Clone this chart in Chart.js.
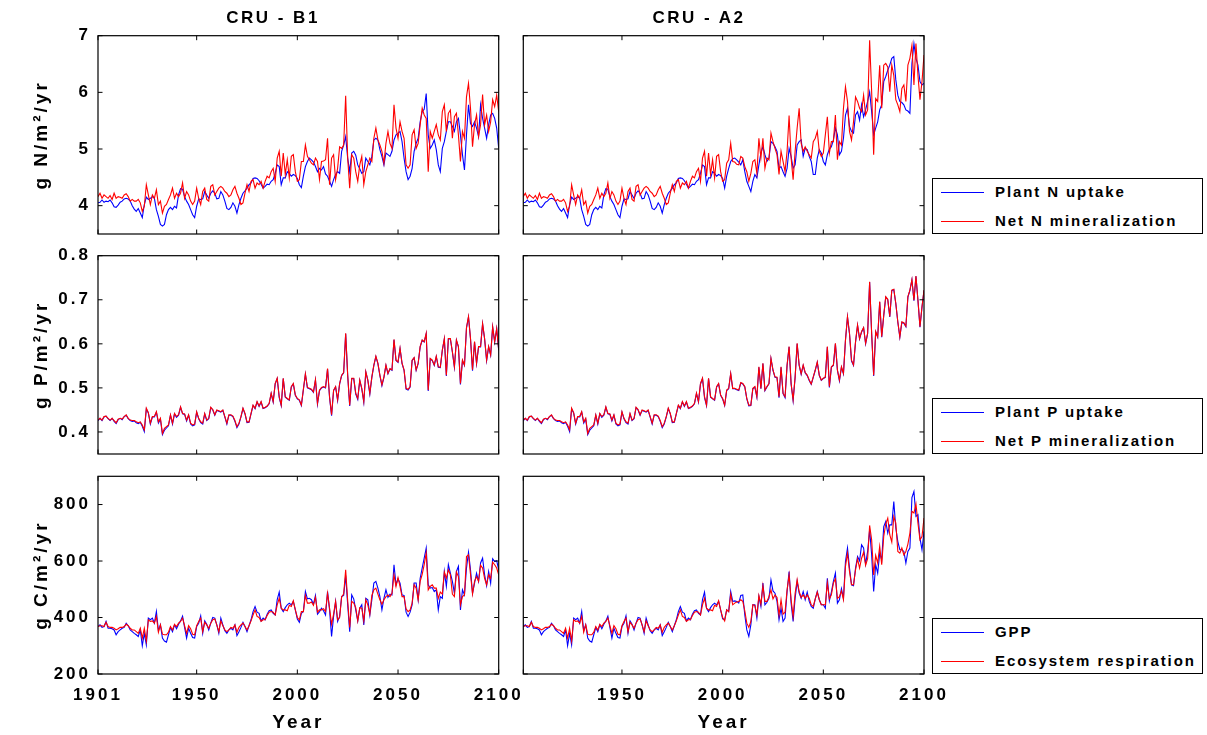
<!DOCTYPE html>
<html>
<head>
<meta charset="utf-8">
<script src="https://cdn.jsdelivr.net/npm/chart.js@4.4.1/dist/chart.umd.min.js"></script>
<style>
  html, body { margin: 0; padding: 0; background: #fff; }
  #wrap { position: relative; width: 1207px; height: 735px; overflow: hidden; font-family: "Liberation Sans", Arial, sans-serif; }
  canvas { position: absolute; left: 0; top: 0; }
  .ptitle { position: absolute; top: 8px; font-weight: bold; font-size: 17px; letter-spacing: 2.5px; transform: translateX(-50%); white-space: nowrap; }
  .legend { position: absolute; left: 932px; width: 271px; height: 56px; border: 1px solid #000; background: #fff; box-sizing: border-box; }
  .lrow { position: absolute; left: 0; height: 20px; width: 100%; }
  .lline { position: absolute; left: 8px; width: 43px; height: 1px; top: 10px; }
  .ltext { position: absolute; left: 62px; top: 0; line-height: 20px; font-weight: bold; font-size: 15px; letter-spacing: 1.9px; white-space: nowrap; }
</style>
</head>
<body>
<div id="wrap">
  <canvas id="c1" width="1207" height="735"></canvas>
  <canvas id="c2" width="1207" height="735"></canvas>
  <canvas id="c3" width="1207" height="735"></canvas>
  <canvas id="c4" width="1207" height="735"></canvas>
  <canvas id="c5" width="1207" height="735"></canvas>
  <canvas id="c6" width="1207" height="735"></canvas>
  <div class="ptitle" style="left:273px">CRU - B1</div>
  <div class="ptitle" style="left:699px">CRU - A2</div>
  <div class="legend" style="top:178px">
    <div class="lrow" style="top:3px"><div class="lline" style="background:#0000ff"></div><div class="ltext">Plant N uptake</div></div>
    <div class="lrow" style="top:32px"><div class="lline" style="background:#ff0000"></div><div class="ltext">Net N mineralization</div></div>
  </div>
  <div class="legend" style="top:398px">
    <div class="lrow" style="top:3px"><div class="lline" style="background:#0000ff"></div><div class="ltext">Plant P uptake</div></div>
    <div class="lrow" style="top:32px"><div class="lline" style="background:#ff0000"></div><div class="ltext">Net P mineralization</div></div>
  </div>
  <div class="legend" style="top:618px">
    <div class="lrow" style="top:3px"><div class="lline" style="background:#0000ff"></div><div class="ltext">GPP</div></div>
    <div class="lrow" style="top:32px"><div class="lline" style="background:#ff0000"></div><div class="ltext">Ecosystem respiration</div></div>
  </div>
</div>
<script>
// ---------- categories / ticks ----------
const firstYear = 1901, lastYear = 2100;
const yearTicks = [1901, 1950, 2000, 2050, 2100];
const nTicks = [4, 5, 6, 7];
const pTicks = [0.4, 0.5, 0.6, 0.7, 0.8];
const cTicks = [200, 400, 600, 800];

// ---------- N (g N/m2/yr) ----------
const nHistBlue = [4.05,4.06,4.10,4.06,4.08,4.07,4.10,4.05,3.98,3.97,
4.01,4.06,4.08,4.12,4.13,4.12,4.08,4.00,3.94,3.90,
3.95,3.87,3.79,4.02,4.15,4.11,4.13,4.16,4.13,3.93,
3.81,3.67,3.64,3.67,3.84,3.93,3.97,3.93,3.99,3.96,
4.19,4.30,4.29,4.16,4.08,4.02,3.93,3.84,3.79,3.99,
4.12,4.11,4.12,4.25,4.19,4.13,4.22,4.26,4.22,4.12,
4.13,4.25,4.19,4.08,3.95,3.93,3.97,4.05,3.99,3.87,
4.02,4.13,4.22,4.26,4.31,4.37,4.40,4.48,4.49,4.48,
4.44,4.38,4.31,4.34,4.38,4.37,4.43,4.46,4.57,4.72,
4.69,4.37,4.49,4.49,4.60,4.57,4.52,4.55,4.53,4.48];
const nHistRed = [4.16,4.22,4.13,4.19,4.16,4.13,4.18,4.11,4.22,4.13,
4.16,4.15,4.13,4.19,4.21,4.16,4.08,4.11,4.08,4.08,
4.11,4.05,3.90,3.99,4.37,4.19,4.02,4.19,4.13,4.28,
4.02,4.08,3.87,3.99,4.02,4.11,4.19,4.31,4.13,4.22,
4.16,4.22,4.40,4.13,4.25,4.19,4.08,4.02,4.08,4.31,
4.13,4.02,4.25,4.31,4.11,4.08,4.34,4.37,4.19,4.25,
4.31,4.34,4.31,4.25,4.22,4.16,4.19,4.28,4.34,4.22,
4.13,4.02,4.05,4.22,4.37,4.25,4.43,4.46,4.31,4.40,
4.37,4.43,4.31,4.43,4.52,4.49,4.60,4.66,4.43,4.84,
4.96,4.52,4.93,4.55,4.81,4.49,4.87,4.90,4.60,4.43];
const nB1Blue = [4.37,4.32,4.52,4.69,4.78,4.84,4.81,4.77,4.69,4.60,
4.66,4.63,4.69,4.56,4.52,4.43,4.34,4.46,4.55,4.60,
4.57,4.96,5.07,5.22,4.84,4.60,4.93,4.96,4.89,4.72,
4.65,4.57,4.60,4.84,4.78,4.72,4.87,5.16,5.19,5.16,
4.99,4.87,4.72,4.93,4.90,4.87,4.96,5.16,5.25,5.28,
5.31,5.13,4.84,4.60,4.46,4.52,4.66,4.96,5.10,5.19,
5.48,5.66,5.70,5.98,5.25,5.01,5.07,5.16,4.99,4.72,
4.60,5.01,5.13,5.31,5.48,5.48,5.40,5.31,5.48,5.54,
5.25,4.90,4.63,5.25,5.78,5.45,5.40,5.48,5.37,5.22,
5.78,5.54,5.37,5.19,5.43,5.60,5.63,5.54,5.37,5.01];
const nB1Red = [4.46,4.78,4.78,5.07,4.87,4.81,4.75,4.72,4.84,4.78,
4.46,4.78,4.79,4.81,5.19,4.37,4.84,4.90,4.46,4.66,
5.04,5.01,5.07,5.94,4.84,4.31,4.90,4.84,4.60,4.43,
4.72,4.87,4.37,4.60,4.72,4.84,4.78,5.19,5.37,5.16,
5.07,4.96,4.75,5.10,5.31,5.10,5.01,5.78,5.37,5.19,
5.48,5.31,5.19,4.72,4.66,4.72,5.25,5.34,5.01,5.10,
5.43,5.72,5.60,5.54,4.60,5.31,5.19,5.31,5.43,5.25,
5.16,5.66,5.78,5.31,5.63,5.69,5.19,5.57,5.63,5.25,
4.78,5.31,5.19,5.92,6.16,5.72,5.04,5.43,5.60,5.22,
5.43,5.96,5.43,5.60,5.31,5.48,5.87,5.75,5.95,5.66];
const nA2Blue = [4.31,4.52,4.66,4.78,4.83,4.84,4.81,4.77,4.72,4.81,
4.60,4.43,4.34,4.25,4.43,4.55,4.49,4.72,4.93,5.04,
4.90,4.78,4.84,5.13,5.10,5.04,4.96,4.66,4.69,4.60,
4.52,4.66,5.01,4.87,4.66,4.72,5.07,5.13,5.16,4.87,
5.01,4.99,4.87,4.78,4.55,4.55,4.84,4.99,4.93,4.78,
4.72,4.90,5.00,5.04,5.16,5.37,5.25,4.90,4.96,5.19,
5.60,5.72,5.40,5.31,5.28,5.60,5.66,5.51,5.78,5.57,
5.69,5.84,6.01,5.66,5.25,5.37,5.48,5.69,5.78,6.19,
6.28,6.39,6.48,6.60,6.63,6.22,5.95,5.84,5.82,5.78,
5.69,5.67,5.63,6.51,6.86,6.60,6.48,6.19,6.13,6.16];
const nA2Red = [4.46,4.75,4.81,5.10,4.78,4.77,4.73,4.72,4.87,4.84,
4.69,4.60,4.43,4.57,4.78,4.81,4.57,5.19,4.84,5.19,
4.66,4.84,4.81,5.28,5.13,5.01,4.90,4.55,4.96,4.78,
4.60,4.96,5.59,4.84,4.46,4.96,5.37,5.72,5.10,4.96,
5.04,4.96,4.90,4.84,5.13,5.19,5.31,4.96,4.87,4.93,
5.25,5.57,4.93,5.13,5.13,5.60,4.81,5.13,5.07,5.72,
6.10,5.84,5.31,5.16,5.48,5.92,5.84,5.72,5.66,5.95,
5.60,5.69,6.92,6.01,4.90,5.89,5.84,6.48,5.72,6.48,
6.51,6.45,6.01,6.48,6.30,5.87,5.78,5.66,6.07,6.13,
5.84,6.48,6.60,6.83,6.13,6.86,6.30,5.87,6.19,6.66];

// ---------- P (g P/m2/yr) ----------
const pHistRed = [0.427,0.431,0.427,0.435,0.436,0.431,0.427,0.431,0.426,0.421,
0.429,0.431,0.429,0.435,0.439,0.431,0.427,0.426,0.426,0.423,
0.421,0.423,0.416,0.405,0.454,0.444,0.420,0.435,0.435,0.446,
0.423,0.431,0.397,0.408,0.412,0.416,0.439,0.420,0.442,0.435,
0.439,0.457,0.442,0.441,0.427,0.439,0.420,0.416,0.418,0.446,
0.431,0.423,0.420,0.442,0.427,0.431,0.456,0.451,0.439,0.450,
0.448,0.446,0.450,0.435,0.420,0.439,0.439,0.436,0.426,0.412,
0.420,0.435,0.454,0.442,0.423,0.423,0.442,0.461,0.454,0.469,
0.459,0.469,0.454,0.456,0.459,0.465,0.488,0.469,0.510,0.522,
0.480,0.461,0.522,0.480,0.476,0.473,0.503,0.510,0.484,0.476];
const pHistBlue = [0.426,0.431,0.426,0.434,0.436,0.430,0.426,0.431,0.424,0.419,
0.428,0.431,0.428,0.435,0.438,0.430,0.426,0.424,0.425,0.421,
0.419,0.422,0.413,0.401,0.452,0.443,0.418,0.434,0.434,0.445,
0.420,0.429,0.394,0.404,0.409,0.414,0.438,0.418,0.441,0.433,
0.438,0.456,0.441,0.440,0.425,0.438,0.418,0.414,0.416,0.445,
0.430,0.421,0.418,0.441,0.426,0.430,0.455,0.450,0.438,0.449,
0.447,0.445,0.449,0.434,0.418,0.438,0.438,0.435,0.424,0.410,
0.418,0.434,0.453,0.441,0.421,0.422,0.441,0.460,0.453,0.468,
0.458,0.468,0.453,0.455,0.458,0.464,0.487,0.468,0.509,0.521,
0.478,0.460,0.521,0.479,0.475,0.472,0.502,0.509,0.483,0.475];
const pB1Red = [0.473,0.461,0.497,0.532,0.501,0.499,0.497,0.491,0.519,0.465,
0.495,0.501,0.503,0.501,0.544,0.480,0.439,0.495,0.503,0.473,
0.510,0.529,0.535,0.624,0.529,0.461,0.522,0.522,0.488,0.476,
0.518,0.499,0.469,0.537,0.518,0.488,0.525,0.552,0.572,0.556,
0.529,0.507,0.525,0.552,0.533,0.544,0.541,0.610,0.563,0.559,
0.590,0.556,0.541,0.499,0.497,0.503,0.563,0.569,0.541,0.556,
0.594,0.609,0.605,0.624,0.495,0.567,0.563,0.552,0.572,0.548,
0.547,0.586,0.612,0.529,0.612,0.612,0.582,0.548,0.609,0.594,
0.510,0.563,0.552,0.637,0.662,0.612,0.541,0.605,0.556,0.594,
0.594,0.646,0.612,0.563,0.594,0.575,0.639,0.605,0.635,0.586];
const pB1Blue = [0.472,0.460,0.496,0.531,0.500,0.498,0.496,0.490,0.518,0.463,
0.494,0.500,0.502,0.500,0.543,0.478,0.437,0.494,0.502,0.471,
0.509,0.528,0.534,0.623,0.528,0.459,0.521,0.521,0.486,0.474,
0.517,0.498,0.467,0.536,0.517,0.486,0.524,0.551,0.571,0.555,
0.528,0.505,0.524,0.551,0.532,0.543,0.540,0.609,0.562,0.558,
0.589,0.555,0.540,0.497,0.495,0.502,0.562,0.568,0.540,0.555,
0.593,0.608,0.604,0.623,0.493,0.566,0.562,0.551,0.571,0.547,
0.546,0.585,0.611,0.527,0.611,0.611,0.581,0.547,0.608,0.593,
0.508,0.562,0.551,0.636,0.661,0.611,0.539,0.604,0.555,0.593,
0.593,0.645,0.611,0.562,0.593,0.574,0.638,0.604,0.634,0.585];
const pA2Red = [0.461,0.495,0.499,0.533,0.499,0.499,0.497,0.495,0.512,0.510,
0.503,0.476,0.461,0.461,0.499,0.503,0.480,0.548,0.499,0.556,
0.495,0.503,0.510,0.567,0.541,0.525,0.524,0.480,0.548,0.488,
0.480,0.552,0.594,0.510,0.473,0.525,0.601,0.552,0.532,0.552,
0.535,0.529,0.518,0.509,0.525,0.541,0.559,0.529,0.518,0.522,
0.525,0.594,0.503,0.548,0.552,0.601,0.541,0.518,0.548,0.533,
0.609,0.662,0.624,0.563,0.552,0.605,0.643,0.612,0.628,0.637,
0.601,0.624,0.741,0.624,0.529,0.628,0.616,0.696,0.616,0.665,
0.707,0.701,0.662,0.722,0.724,0.692,0.650,0.616,0.650,0.648,
0.640,0.707,0.722,0.746,0.699,0.754,0.699,0.639,0.684,0.722];
const pA2Blue = [0.460,0.494,0.498,0.532,0.498,0.498,0.496,0.494,0.511,0.509,
0.502,0.475,0.459,0.460,0.498,0.502,0.479,0.547,0.498,0.555,
0.494,0.502,0.509,0.566,0.540,0.524,0.523,0.478,0.547,0.487,
0.478,0.551,0.593,0.509,0.471,0.524,0.600,0.551,0.531,0.551,
0.534,0.528,0.517,0.508,0.524,0.540,0.558,0.528,0.517,0.521,
0.524,0.593,0.501,0.547,0.551,0.600,0.540,0.516,0.547,0.532,
0.608,0.661,0.623,0.561,0.551,0.604,0.642,0.611,0.627,0.636,
0.600,0.623,0.740,0.623,0.527,0.627,0.615,0.695,0.615,0.664,
0.706,0.700,0.661,0.721,0.723,0.691,0.649,0.615,0.649,0.647,
0.639,0.706,0.721,0.745,0.698,0.753,0.698,0.638,0.683,0.721];

// ---------- C (g C/m2/yr) ----------
const cHistBlue = [368,374,365,368,386,362,362,360,356,339,
350,356,362,365,380,371,356,350,344,339,
333,356,300,344,303,398,392,398,380,421,
353,374,327,317,313,339,365,350,374,360,
376,388,405,365,327,362,344,329,327,368,
380,406,344,388,376,356,380,400,398,374,
344,398,374,353,344,356,362,356,374,336,
350,365,383,368,350,371,392,421,439,419,
415,388,398,392,412,424,427,415,409,463,
490,433,421,435,445,451,445,457,427,395];
const cHistRed = [368,371,371,368,383,368,365,365,362,356,
360,365,365,368,376,371,362,356,356,350,
344,362,327,362,317,392,386,388,380,404,
348,374,341,339,339,348,368,356,376,368,
380,386,398,371,344,371,360,341,339,371,
386,398,350,383,374,362,380,392,395,374,
350,388,371,356,350,356,365,362,374,348,
365,374,380,368,356,371,388,409,427,404,
400,386,392,392,407,419,421,419,409,445,
468,433,427,427,424,443,439,459,427,400];
const cB1Blue = [383,415,421,492,466,468,463,447,478,412,
421,433,424,409,492,427,333,404,457,386,
404,474,478,549,445,350,480,466,427,388,
433,445,374,468,463,409,463,522,528,504,
474,427,468,498,471,483,480,587,516,537,
522,480,478,419,404,419,445,522,522,463,
539,575,610,646,516,504,506,492,498,427,
474,468,563,510,587,557,528,486,563,581,
427,498,480,575,631,569,486,522,557,528,
593,610,551,513,563,522,608,598,601,569];
const cB1Red = [392,421,421,478,451,451,455,443,471,419,
427,427,431,421,486,433,376,412,457,392,
400,474,483,569,459,365,457,451,435,388,
435,433,388,463,445,412,478,498,504,483,
463,447,463,474,480,474,486,551,510,541,
510,474,474,431,421,427,451,516,504,463,
528,553,587,628,498,510,516,504,504,468,
490,483,561,539,569,551,483,474,561,545,
445,474,480,616,622,553,483,528,545,528,
585,575,539,516,551,539,596,587,575,551];
const cA2Blue = [392,427,421,492,457,459,457,451,478,480,
409,356,333,374,445,445,398,474,439,522,
445,454,468,533,494,486,457,392,433,386,
398,492,563,451,386,468,528,486,468,492,
463,490,457,439,433,466,492,463,445,445,
433,539,459,490,528,557,451,463,502,468,
598,646,575,516,513,575,616,601,657,646,
589,634,711,622,492,587,557,628,604,722,
740,699,728,728,811,717,669,640,640,634,
593,634,646,825,846,758,764,681,640,705];
const cA2Red = [388,427,421,483,445,451,455,457,463,457,
424,380,365,386,445,443,409,478,447,513,
457,457,474,498,466,480,471,409,463,412,
419,498,551,463,404,486,534,492,471,480,
468,480,468,445,439,466,490,463,445,445,
445,522,466,480,522,537,468,474,494,463,
581,628,563,516,516,569,608,575,610,631,
585,608,726,675,551,620,593,652,587,687,
731,752,693,667,758,734,634,628,646,622,
634,660,699,776,770,802,734,675,687,752];

// ---------- build ----------
const years = [];
for (let yr = firstYear; yr <= lastYear; yr++) years.push(yr);
const toPts = vals => vals.map((v, i) => ({ x: years[i], y: v }));

Chart.defaults.font.family = '"Liberation Sans", Arial, Helvetica, sans-serif';
Chart.defaults.color = '#000';

const W = 1207, H = 735;
const cols = [{ l: 98, r: 498.7 }, { l: 523.3, r: 924 }];
const rows = [{ t: 35.7, b: 234 }, { t: 255.7, b: 454 }, { t: 476.3, b: 674 }];

const spacing = {
  id: 'spacing',
  beforeUpdate(chart) { chart.ctx.letterSpacing = '3px'; },
  beforeDraw(chart) { chart.ctx.letterSpacing = '3px'; }
};

const frameTicks = {
  id: 'frameTicks',
  afterDatasetsDraw(chart) {
    const { ctx, chartArea: a, scales } = chart;
    const L = 4.5;
    ctx.save();
    ctx.strokeStyle = '#000';
    ctx.lineWidth = 1;
    ctx.beginPath();
    scales.x.ticks.forEach(t => {
      const px = scales.x.getPixelForValue(t.value);
      ctx.moveTo(px, a.bottom); ctx.lineTo(px, a.bottom - L);
      ctx.moveTo(px, a.top); ctx.lineTo(px, a.top + L);
    });
    scales.y.ticks.forEach(t => {
      const py = scales.y.getPixelForValue(t.value);
      ctx.moveTo(a.left, py); ctx.lineTo(a.left + L, py);
      ctx.moveTo(a.right, py); ctx.lineTo(a.right - L, py);
    });
    ctx.stroke();
    ctx.lineWidth = 1.2;
    ctx.strokeRect(a.left, a.top, a.right - a.left, a.bottom - a.top);
    ctx.restore();
  }
};

function makePanel(id, col, row, blue, red, yMin, yMax, yTickVals, yTitle, showXLabels, skipFirstX, fmt) {
  const c = cols[col], r = rows[row];
  const yW = col === 0 ? 78 : 20;
  const xH = showXLabels ? (H - r.b) : 8;
  new Chart(document.getElementById(id), {
    type: 'line',
    data: {
      datasets: [
        { label: 'red', data: toPts(red), borderColor: '#ff0000', borderWidth: 1.1, pointRadius: 0, fill: false, tension: 0, order: 0 },
        { label: 'blue', data: toPts(blue), borderColor: '#0000ff', borderWidth: 1.1, pointRadius: 0, fill: false, tension: 0, order: 1 }
      ]
    },
    options: {
      responsive: false,
      animation: false,
      events: [],
      layout: { padding: { left: c.l - yW, right: W - c.r, top: r.t, bottom: H - r.b - xH } },
      plugins: { legend: { display: false }, tooltip: { enabled: false }, title: { display: false } },
      scales: {
        x: {
          type: 'linear', min: firstYear, max: lastYear,
          afterBuildTicks: s => { s.ticks = yearTicks.map(v => ({ value: v })); },
          afterFit: s => { s.height = xH; },
          grid: { display: false, drawTicks: false },
          border: { display: false },
          ticks: {
            display: showXLabels, padding: 11, maxRotation: 0, autoSkip: false,
            font: { size: 17, weight: 'bold' },
            callback: v => (skipFirstX && v === firstYear) ? '' : String(v)
          },
          title: showXLabels ? { display: true, text: 'Year', font: { size: 19, weight: 'bold' }, padding: { top: 0, bottom: 1 } } : { display: false }
        },
        y: {
          type: 'linear', min: yMin, max: yMax,
          afterBuildTicks: s => { s.ticks = yTickVals.map(v => ({ value: v })); },
          afterFit: s => { s.width = yW; },
          grid: { display: false, drawTicks: false },
          border: { display: false },
          ticks: { display: col === 0, padding: 7, font: { size: 17, weight: 'bold' }, callback: fmt },
          title: col === 0 ? { display: true, text: yTitle, font: { size: 19, weight: 'bold' }, padding: { top: 10, bottom: 0 } } : { display: false }
        }
      }
    },
    plugins: [spacing, frameTicks]
  });
}

const fmtInt = v => String(v);
const fmtP = v => v.toFixed(1);

makePanel('c1', 0, 0, nHistBlue.concat(nB1Blue), nHistRed.concat(nB1Red), 3.5, 7, nTicks, 'g N/m\u00B2/yr', false, false, fmtInt);
makePanel('c2', 1, 0, nHistBlue.concat(nA2Blue), nHistRed.concat(nA2Red), 3.5, 7, nTicks, '', false, false, fmtInt);
makePanel('c3', 0, 1, pHistBlue.concat(pB1Blue), pHistRed.concat(pB1Red), 0.35, 0.8, pTicks, 'g P/m\u00B2/yr', false, false, fmtP);
makePanel('c4', 1, 1, pHistBlue.concat(pA2Blue), pHistRed.concat(pA2Red), 0.35, 0.8, pTicks, '', false, false, fmtP);
makePanel('c5', 0, 2, cHistBlue.concat(cB1Blue), cHistRed.concat(cB1Red), 200, 900, cTicks, 'g C/m\u00B2/yr', true, false, fmtInt);
makePanel('c6', 1, 2, cHistBlue.concat(cA2Blue), cHistRed.concat(cA2Red), 200, 900, cTicks, '', true, true, fmtInt);
</script>
</body>
</html>
